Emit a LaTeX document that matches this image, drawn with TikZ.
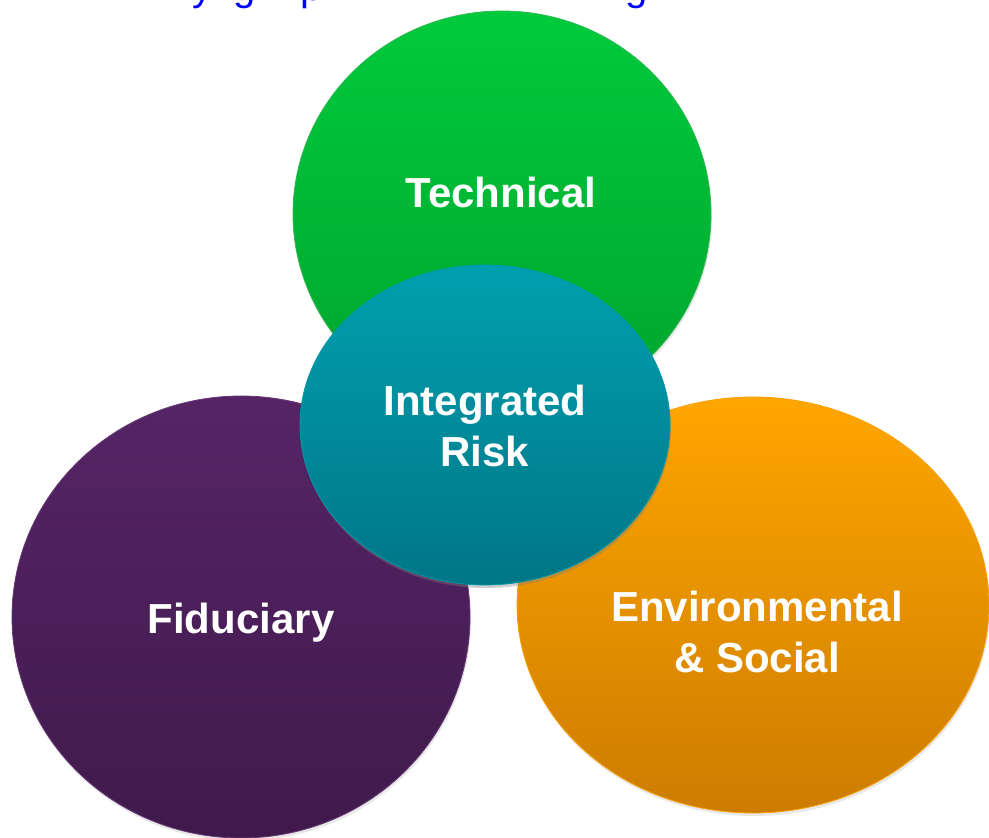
\documentclass[tikz,border=0pt]{standalone}
\usepackage{fontspec}
\setmainfont{Liberation Sans}
\usetikzlibrary{shapes.geometric,shadows}
\definecolor{grtop}{RGB}{0,202,60}
\definecolor{grbot}{RGB}{0,164,45}
\definecolor{tltop}{RGB}{0,160,176}
\definecolor{tlbot}{RGB}{0,118,134}
\definecolor{pptop}{RGB}{86,36,102}
\definecolor{ppbot}{RGB}{64,26,76}
\definecolor{ortop}{RGB}{255,166,0}
\definecolor{orbot}{RGB}{204,124,0}
\definecolor{titleblue}{RGB}{0,0,255}
\begin{document}
\begin{tikzpicture}[x=1pt,y=1pt,
  blob/.style={ellipse,inner sep=0pt,line width=0.8pt,
    drop shadow={opacity=0.18,shadow xshift=1pt,shadow yshift=-3pt}},
  lbl/.style={text=white,font=\bfseries\fontsize{42}{51}\selectfont,align=center,inner sep=0pt},
  frag/.style={text=titleblue,font=\fontsize{40}{48}\selectfont,anchor=base,inner sep=0pt}]
\useasboundingbox (0,0) rectangle (989,838);
\clip (0,0) rectangle (989,838);
% clipped title line (only descenders show)
\node[frag] (t1) at (202,837) {y};
\node[frag] (t2) at (245,837) {g};
\node[frag] (t3) at (312,837) {p};
\node[frag] (t4) at (637,837) {g};
% circles
\node[blob,minimum width=418pt,minimum height=406pt,top color=grtop,bottom color=grbot,draw=grbot!80!white] (tech) at (502,624) {};
\node[blob,minimum width=458pt,minimum height=442pt,top color=pptop,bottom color=ppbot,draw=pptop!90!white] (fid) at (241,221) {};
\node[blob,minimum width=472pt,minimum height=416pt,top color=ortop,bottom color=orbot,draw=ortop!85!orbot] (env) at (753,233) {};
\node[blob,minimum width=370pt,minimum height=320pt,top color=tltop,bottom color=tlbot,draw=tltop!80!tlbot,
  drop shadow={opacity=0.25,shadow xshift=1pt,shadow yshift=-3pt}] (integ) at (485,413) {};
% labels
\node[lbl,anchor=base] (techl) at (501,630) {Technical};
\node[lbl,anchor=base] (fidl) at (241,204) {Fiduciary};
\node[lbl,anchor=base] (integl1) at (485,422) {Integrated};
\node[lbl,anchor=base] (integl2) at (485,371) {Risk};
\node[lbl,anchor=base] (envl1) at (757,216) {Environmental};
\node[lbl,anchor=base] (envl2) at (757,165) {\& Social};
\end{tikzpicture}
\end{document}
